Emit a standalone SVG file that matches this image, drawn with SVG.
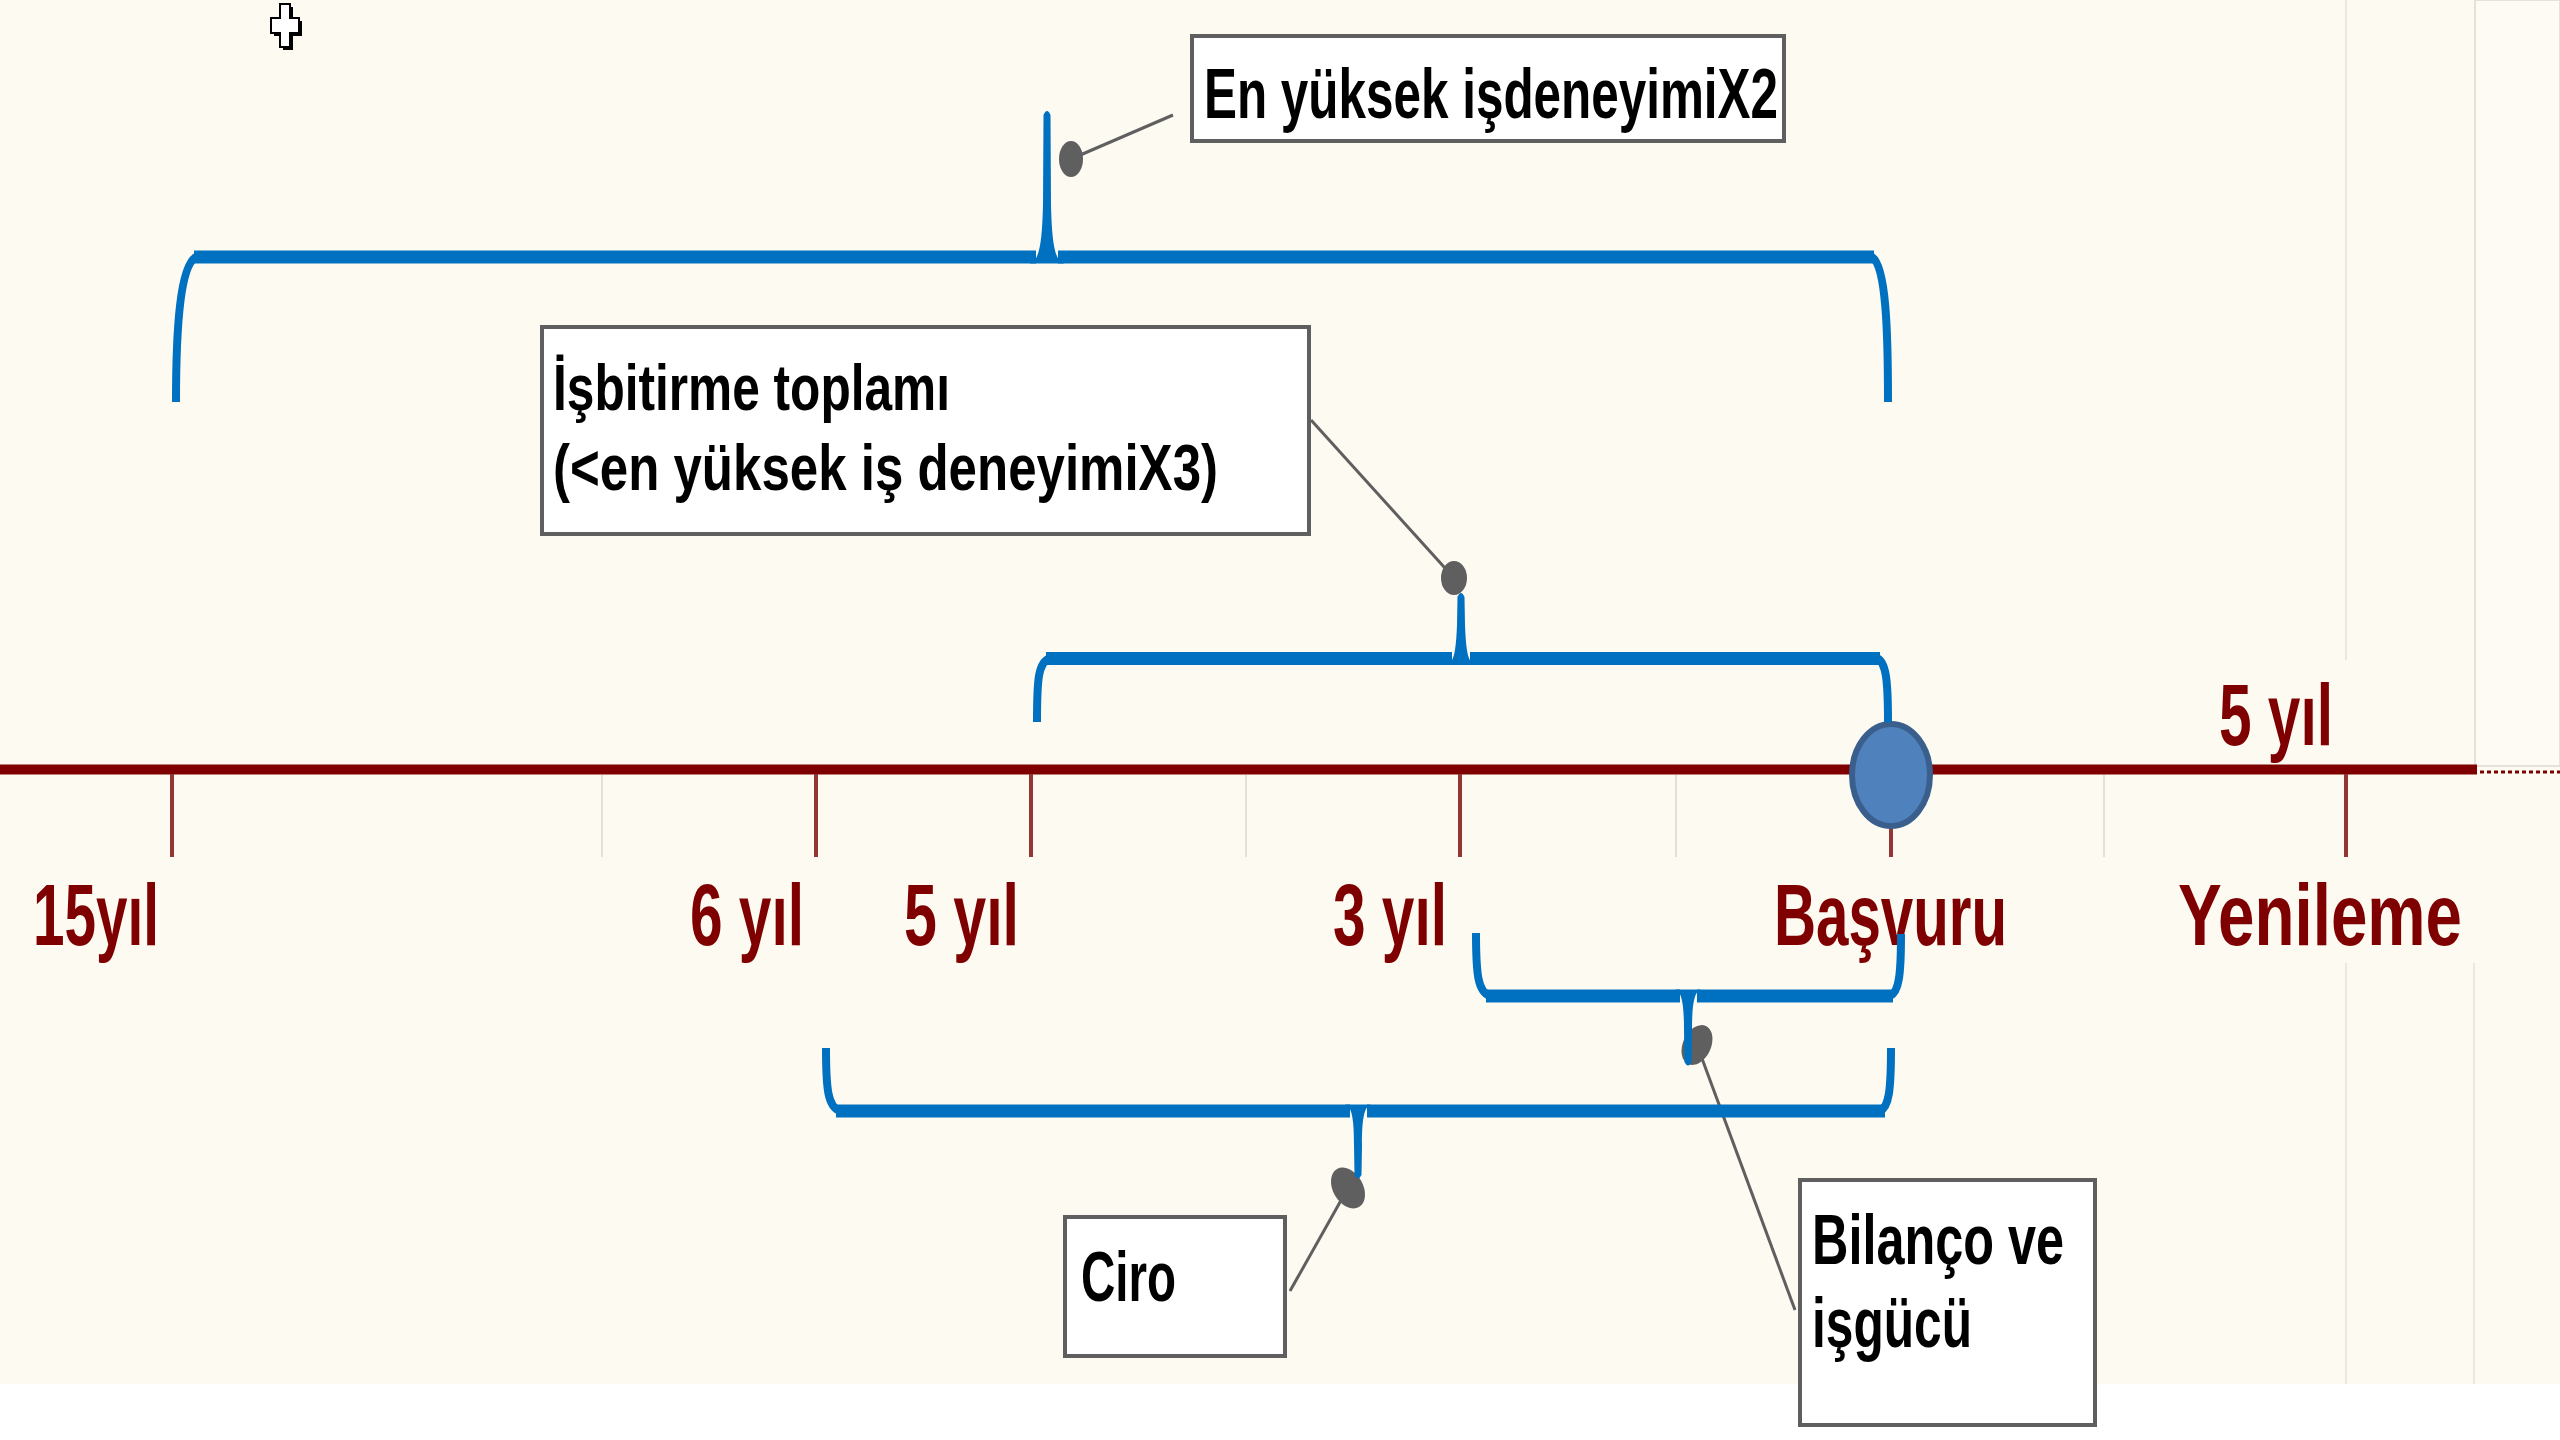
<svg xmlns="http://www.w3.org/2000/svg" width="2560" height="1440" viewBox="0 0 2560 1440">
<style>
.lbl{font-family:"Liberation Sans",Arial,sans-serif;font-weight:bold;font-size:88px;fill:#7F0000}
.btx{font-family:"Liberation Sans",Arial,sans-serif;font-weight:bold;font-size:70px;fill:#000}
.box{fill:#FFFFFF;stroke:#5F5F5F;stroke-width:4}
.brh{fill:none;stroke:#0070C0;stroke-width:13;stroke-linecap:butt}
.brv{fill:none;stroke:#0070C0;stroke-width:8;stroke-linecap:butt}
.spk{fill:#0070C0}
.dot{fill:#5F5F5F}
.cl{stroke:#5F5F5F;stroke-width:3;fill:none}
.tick{stroke:#943634;stroke-width:4}
.mtick{stroke:#E4E0D8;stroke-width:2}
.grid{stroke:#ECE8E0;stroke-width:2}
</style>
<rect x="0" y="0" width="2560" height="1440" fill="#FFFFFF"/>
<rect x="0" y="0" width="2560" height="1384" fill="#FDFAF2"/>
<rect x="2475" y="0" width="85" height="766" fill="#FEFBF5" stroke="#E6E2DA" stroke-width="2"/>
<g id="grid">
<line class="grid" x1="2346" y1="0" x2="2346" y2="660"/>
<line class="grid" x1="2346" y1="963" x2="2346" y2="1384"/>
<line class="grid" x1="2474" y1="963" x2="2474" y2="1384"/>
</g>
<g id="cursor">
<path d="M283,7 h10 v14 h9 v15 h-9 v14 h-10 v-14 h-9 v-15 h9 z" fill="#000"/>
<path d="M280,4 h10 v14 h9 v15 h-9 v14 h-10 v-14 h-9 v-15 h9 z" fill="#FFF" stroke="#000" stroke-width="2"/>
</g>
<g id="timeline">
<line x1="0" y1="769.5" x2="2477" y2="769.5" stroke="#7F0000" stroke-width="10"/>
<line x1="2480" y1="772" x2="2560" y2="772" stroke="#7F0000" stroke-width="3" stroke-dasharray="4 3"/>
<line class="mtick" x1="602" y1="775" x2="602" y2="857"/>
<line class="mtick" x1="1246" y1="775" x2="1246" y2="857"/>
<line class="mtick" x1="1676" y1="775" x2="1676" y2="857"/>
<line class="mtick" x1="2104" y1="775" x2="2104" y2="857"/>
<line class="tick" x1="172" y1="774" x2="172" y2="857"/>
<line class="tick" x1="816" y1="774" x2="816" y2="857"/>
<line class="tick" x1="1031" y1="774" x2="1031" y2="857"/>
<line class="tick" x1="1460" y1="774" x2="1460" y2="857"/>
<line class="tick" x1="1891" y1="774" x2="1891" y2="857"/>
<line class="tick" x1="2346" y1="774" x2="2346" y2="857"/>
</g>
<g id="marker-basvuru">
<ellipse cx="1891" cy="775" rx="39" ry="51" fill="#4F81BD" stroke="#3A5F8C" stroke-width="6"/>
</g>
<g id="labels">
<text class="lbl" x="33" y="945" textLength="126" lengthAdjust="spacingAndGlyphs">15yıl</text>
<text class="lbl" x="690" y="945" textLength="114" lengthAdjust="spacingAndGlyphs">6 yıl</text>
<text class="lbl" x="904" y="945" textLength="115" lengthAdjust="spacingAndGlyphs">5 yıl</text>
<text class="lbl" x="1333" y="945" textLength="114" lengthAdjust="spacingAndGlyphs">3 yıl</text>
<text class="lbl" x="1774" y="945" textLength="233" lengthAdjust="spacingAndGlyphs">Başvuru</text>
<text class="lbl" x="2178" y="945" textLength="284" lengthAdjust="spacingAndGlyphs">Yenileme</text>
<text class="lbl" x="2219" y="745" textLength="114" lengthAdjust="spacingAndGlyphs">5 yıl</text>
</g>
<g id="connectors">
<line class="cl" x1="1071" y1="159" x2="1173" y2="115"/>
<ellipse class="dot" cx="1071" cy="159" rx="12" ry="18"/>
<line class="cl" x1="1454" y1="578" x2="1311" y2="420"/>
<ellipse class="dot" cx="1454" cy="578" rx="13" ry="17"/>
<line class="cl" x1="1697" y1="1045" x2="1795" y2="1310"/>
<ellipse class="dot" cx="1697" cy="1045" rx="14" ry="21" transform="rotate(25 1697 1045)"/>
<line class="cl" x1="1348" y1="1188" x2="1290" y2="1291"/>
<ellipse class="dot" cx="1348" cy="1188" rx="15" ry="22" transform="rotate(-30 1348 1188)"/>
</g>
<g id="bracket-top">
<path class="brv" d="M176,402 C176,330 180,266 196,257"/>
<path class="brh" d="M194,257 H1036 M1058,257 H1874"/>
<path class="brv" d="M1872,257 C1886,266 1888,330 1888,402"/>
<path class="spk" d="M1029,263.5 C1039,262 1042,245 1043,205 L1043.5,115 Q1047,107 1050.5,115 L1051,205 C1052,245 1055,262 1065,263.5 Z"/>
</g>
<g id="bracket-mid">
<path class="brv" d="M1037,722 C1037,680 1038,662 1050,658"/>
<path class="brh" d="M1046,658.5 H1452 M1470,658.5 H1880"/>
<path class="brv" d="M1877,658 C1886,662 1888,680 1888,722"/>
<path class="spk" d="M1447,665 C1454,663 1456,650 1457,625 L1457.5,597 Q1461,589 1464.5,597 L1465,625 C1466,650 1468,663 1475,665 Z"/>
</g>
<g id="bracket-bilanco">
<path class="brv" d="M1476,933 C1476,975 1478,992 1490,996"/>
<path class="brh" d="M1486,996 H1680 M1697,996 H1893"/>
<path class="brv" d="M1901,934 C1901,975 1899,992 1890,996"/>
<path class="spk" d="M1675,989.5 C1682,991 1684,1005 1684,1030 L1684.5,1062 Q1688,1069 1691.5,1062 L1692,1030 C1692,1005 1694,991 1701,989.5 Z"/>
</g>
<g id="bracket-ciro">
<path class="brv" d="M826,1048 C826,1090 828,1107 840,1111"/>
<path class="brh" d="M836,1111 H1350 M1367,1111 H1885"/>
<path class="brv" d="M1891,1048 C1891,1090 1889,1107 1880,1111"/>
<path class="spk" d="M1345,1104.5 C1352,1106 1354,1120 1354,1145 L1354.5,1175 Q1358,1182 1361.5,1175 L1362,1145 C1362,1120 1364,1106 1371,1104.5 Z"/>
</g>
<g id="box-en-yuksek">
<rect class="box" x="1192" y="36" width="592" height="105"/>
<text class="btx" x="1204" y="118" textLength="574" lengthAdjust="spacingAndGlyphs">En yüksek işdeneyimiX2</text>
</g>
<g id="box-isbitirme">
<rect class="box" x="542" y="327" width="767" height="207"/>
<text class="btx" style="font-size:64px" x="553" y="410" textLength="397" lengthAdjust="spacingAndGlyphs">İşbitirme toplamı</text>
<text class="btx" style="font-size:64px" x="553" y="490" textLength="665" lengthAdjust="spacingAndGlyphs">(&lt;en yüksek iş deneyimiX3)</text>
</g>
<g id="box-ciro">
<rect class="box" x="1065" y="1217" width="220" height="139"/>
<text class="btx" x="1081" y="1301" textLength="95" lengthAdjust="spacingAndGlyphs">Ciro</text>
</g>
<g id="box-bilanco">
<rect class="box" x="1800" y="1180" width="295" height="245"/>
<text class="btx" x="1812" y="1264" textLength="252" lengthAdjust="spacingAndGlyphs">Bilanço ve</text>
<text class="btx" x="1812" y="1347" textLength="160" lengthAdjust="spacingAndGlyphs">işgücü</text>
</g>
</svg>
